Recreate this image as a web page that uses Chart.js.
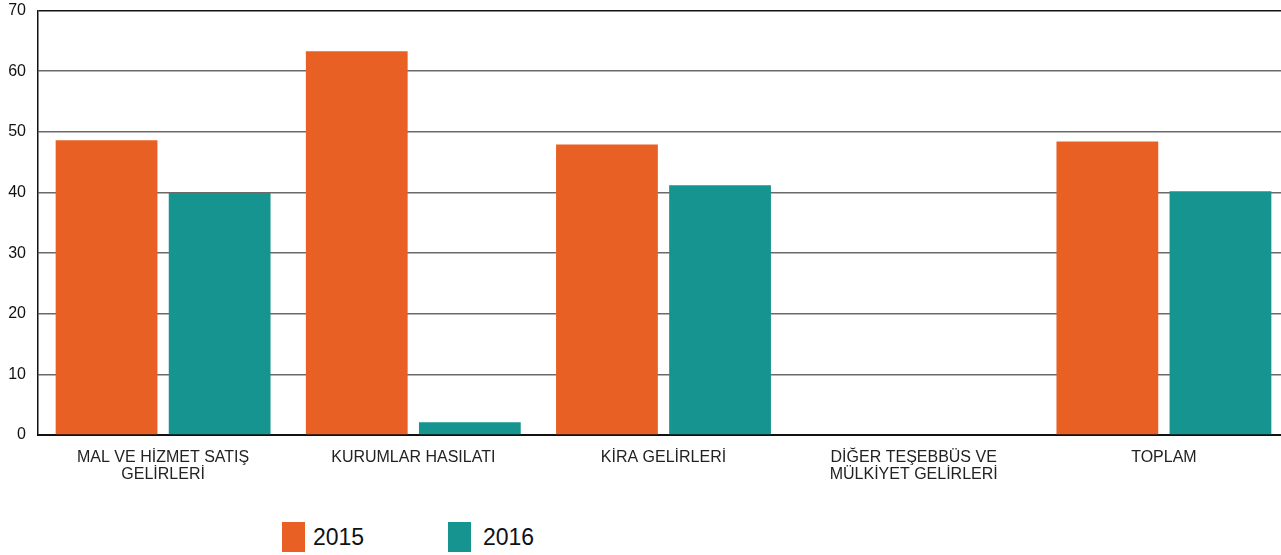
<!DOCTYPE html>
<html>
<head>
<meta charset="utf-8">
<script src="https://cdn.jsdelivr.net/npm/chart.js@4.4.0/dist/chart.umd.min.js"></script>
<style>
  html, body { margin: 0; padding: 0; background: #fff; overflow: hidden; }
  #wrap { position: relative; width: 1289px; height: 501px; margin-top: -11px; }
  #legend { position: absolute; left: 282px; top: 522px; font-family: "Liberation Sans", Arial, sans-serif; font-size: 23px; color: #111; }
  .item { position: absolute; top: 0; white-space: nowrap; }
  .box { display: inline-block; width: 23px; height: 30px; vertical-align: middle; }
  .txt { display: inline-block; vertical-align: middle; line-height: 30px; }
</style>
</head>
<body>
<div id="wrap"><canvas id="myChart"></canvas></div>
<div id="legend"></div>
<script>
var categories = [['MAL VE HİZMET SATIŞ', 'GELİRLERİ'], 'KURUMLAR HASILATI', 'KİRA GELİRLERİ', ['DİĞER TEŞEBBÜS VE', 'MÜLKİYET GELİRLERİ'], 'TOPLAM'];
var seriesNames = ['2015', '2016'];
var values2015 = [48.6, 63.3, 47.9, 0, 48.4];
var values2016 = [39.9, 2.1, 41.2, 0, 40.2];
var yTicks = [0, 10, 20, 30, 40, 50, 60, 70];
var colors = ['#E86024', '#169490'];

function drawChart(){
  var ctx = document.getElementById('myChart').getContext('2d');
  var chart = new Chart(ctx, {
    type: 'bar',
    data: {
      labels: categories,
      datasets: [{
        label: seriesNames[0],
        data: values2015,
        backgroundColor: colors[0],
        barPercentage: 0.9,
        categoryPercentage: 0.904
      },
      {
        label: seriesNames[1],
        data: values2016,
        backgroundColor: colors[1],
        barPercentage: 0.9,
        categoryPercentage: 0.904
      }]
    },
    options: {
      responsive: true,
      maintainAspectRatio: false,
      animation: false,
      layout: { padding: 0 },
      plugins: {
        legend: { display: false },
        tooltip: { enabled: false }
      },
      scales: {
        x: {
          grid: { display: false, drawTicks: false },
          border: { display: true, color: '#111', width: 2 },
          ticks: {
            color: '#222',
            padding: 14,
            maxRotation: 0,
            autoSkip: false,
            font: { family: '"Liberation Sans", Arial, sans-serif', size: 16, lineHeight: 1.05 }
          },
          afterFit: function(axis){ axis.height = 55; }
        },
        y: {
          min: 0,
          max: 70,
          afterBuildTicks: function(axis){
            axis.ticks = yTicks.map(function(v){ return { value: v }; });
          },
          grid: {
            drawTicks: false,
            color: function(c){ return c.tick && c.tick.value === 70 ? '#111' : '#6a6a6a'; },
            lineWidth: 1.5
          },
          border: { display: true, color: '#111', width: 1.5 },
          ticks: {
            color: '#111',
            padding: 12,
            font: { family: '"Liberation Sans", Arial, sans-serif', size: 16 }
          },
          afterFit: function(axis){ axis.width = 38; }
        }
      }
    }
  });

  // legend (html, placed like the original)
  var legend = document.getElementById('legend');
  var boxLeft = [0, 166];
  var textGap = [8, 12];
  for (var i = 0; i < seriesNames.length; i++) {
    var item = document.createElement('div');
    item.className = 'item';
    item.style.left = boxLeft[i] + 'px';
    item.innerHTML = '<span class="box" style="background:' + colors[i] + '"></span><span class="txt" style="margin-left:' + textGap[i] + 'px">' + seriesNames[i] + '</span>';
    legend.appendChild(item);
  }
}

drawChart();
</script>
</body>
</html>
